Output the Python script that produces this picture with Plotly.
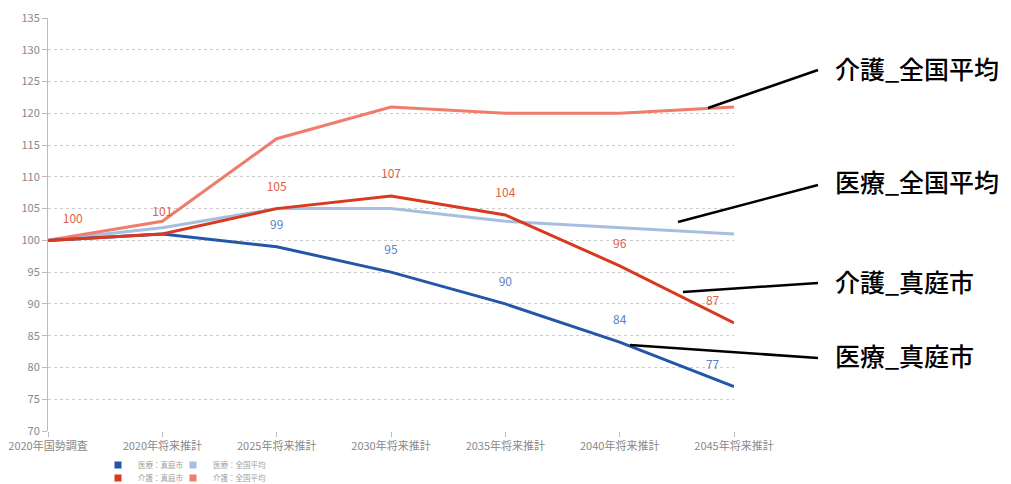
import plotly.graph_objects as go

categories = ["2020年国勢調査", "2020年将来推計", "2025年将来推計", "2030年将来推計",
              "2035年将来推計", "2040年将来推計", "2045年将来推計"]
iryo_maniwa = [100, 101, 99, 95, 90, 84, 77]
iryo_zenkoku = [100, 102, 105, 105, 103, 102, 101]
kaigo_maniwa = [100, 101, 105, 107, 104, 96, 87]
kaigo_zenkoku = [100, 103, 116, 121, 120, 120, 121]

legend_names = ["医療：真庭市", "医療：全国平均", "介護：真庭市", "介護：全国平均"]
callout_names = ["介護_全国平均", "医療_全国平均", "介護_真庭市", "医療_真庭市"]

C_DB = "#2356a8"
C_LB = "#a6bfe0"
C_RD = "#d8391f"
C_SA = "#ef7d6c"

FONT = "Noto Sans CJK JP"

fig = go.Figure()

def labels(vals, hide=()):
    return ["" if i in hide else str(v) for i, v in enumerate(vals)]

n = len(categories)
pos = ["top center"] * n
pos[0] = "top right"
pos[-1] = "top left"

fig.add_trace(go.Scatter(x=categories, y=iryo_zenkoku, mode="lines",
                         line=dict(color=C_LB, width=3), showlegend=False))
fig.add_trace(go.Scatter(x=categories, y=kaigo_zenkoku, mode="lines",
                         line=dict(color=C_SA, width=3), showlegend=False))
fig.add_trace(go.Scatter(x=categories, y=iryo_maniwa, mode="lines+markers+text",
                         line=dict(color=C_DB, width=3),
                         marker=dict(size=22, opacity=0, color=C_DB),
                         text=labels(iryo_maniwa, hide=(0, 1)), textposition=pos,
                         textfont=dict(color="#5a82c4", size=12, family=FONT),
                         cliponaxis=False, showlegend=False))
fig.add_trace(go.Scatter(x=categories, y=kaigo_maniwa, mode="lines+markers+text",
                         line=dict(color=C_RD, width=3),
                         marker=dict(size=22, opacity=0, color=C_RD),
                         text=labels(kaigo_maniwa), textposition=pos,
                         textfont=dict(color="#dd5f4c", size=12, family=FONT),
                         cliponaxis=False, showlegend=False))

L, R, T, B = 48, 277, 18, 53
W, H = 1011, 484
pw, ph = W - L - R, H - T - B

def px(x):
    return (x - L) / pw

def py(y):
    return (H - B - y) / ph

# legend entries (square swatches), one legend box per entry for exact placement
legend_ids = ["legend", "legend2", "legend3", "legend4"]
legend_pos = [(98, 465), (173, 465), (98, 478), (173, 478)]
for name, col, lg in zip(legend_names, [C_DB, C_LB, C_RD, C_SA], legend_ids):
    fig.add_trace(go.Scatter(x=[None], y=[None], mode="markers", name=name,
                             marker=dict(symbol="square", size=7, color=col),
                             legend=lg, showlegend=True))

legend_layout = {}
for lg, (lx, ly) in zip(legend_ids, legend_pos):
    legend_layout[lg] = dict(orientation="h", xanchor="left", yanchor="middle",
                             x=px(lx), y=py(ly),
                             font=dict(family=FONT, size=7.5, color="#a0a0a0"),
                             bgcolor="rgba(0,0,0,0)", itemwidth=30,
                             borderwidth=0)

callout_lines = [((708, 108), (818, 70)),
                 ((678, 222), (818, 185)),
                 ((683, 292), (818, 283)),
                 ((630, 345), (818, 358))]
callout_text_pos = [(833, 68), (833, 181), (833, 281), (833, 355)]

for (p0, p1) in callout_lines:
    fig.add_shape(type="line", xref="paper", yref="paper",
                  x0=px(p0[0]), y0=py(p0[1]), x1=px(p1[0]), y1=py(p1[1]),
                  line=dict(color="black", width=2.5))
for name, (tx, ty) in zip(callout_names, callout_text_pos):
    fig.add_annotation(xref="paper", yref="paper", x=px(tx), y=py(ty),
                       xanchor="left", yanchor="middle", text=name, showarrow=False,
                       font=dict(family=FONT, size=25, color="black", weight=500))

fig.update_layout(
    width=W, height=H,
    margin=dict(l=L, r=R, t=T, b=B, autoexpand=False),
    paper_bgcolor="white", plot_bgcolor="white",
    font=dict(family=FONT),
    **legend_layout,
)
fig.update_xaxes(range=[0, n - 1], showgrid=False, showline=False,
                 ticks="outside", ticklen=5, tickcolor="#bbbbbb",
                 tickfont=dict(size=11, color="#888888", family=FONT))
fig.update_yaxes(range=[70, 135], dtick=5, showgrid=True, gridcolor="#cccccc",
                 griddash="dot", showline=True, linecolor="#bbbbbb", linewidth=1,
                 ticks="outside", ticklen=5, tickcolor="#bbbbbb", zeroline=False,
                 tickfont=dict(size=11, color="#888888", family=FONT))

fig.write_html("out.html", config={"displayModeBar": False},
               post_script="document.body.style.margin='0';document.body.style.overflow='hidden';")
